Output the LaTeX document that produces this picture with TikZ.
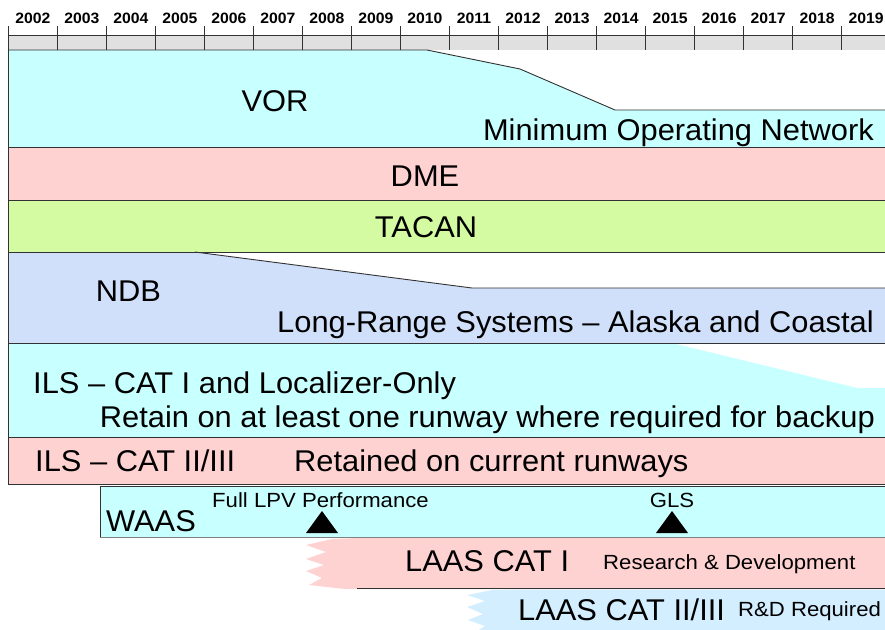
\documentclass[tikz,border=0pt]{standalone}
\usepackage{fontspec}
\setmainfont{Liberation Sans}
\usepackage{graphicx}

% band colours
\definecolor{vorcyan}{RGB}{200,255,255}
\definecolor{dmepink}{RGB}{255,210,210}
\definecolor{tacgreen}{RGB}{213,251,162}
\definecolor{ndbblue}{RGB}{208,224,250}
\definecolor{laasblue}{RGB}{210,238,255}
\definecolor{bargray}{RGB}{224,224,224}
\definecolor{edgegray}{RGB}{50,50,50}

\newcommand\bigtxt{\fontsize{30}{34}\selectfont}
\newcommand\smalltxt{\fontsize{20.5}{24}\selectfont}
\newcommand\yeartxt{\fontsize{15}{18}\selectfont\bfseries}
\newcommand\widen[1]{\scalebox{1.08}[1]{#1}}
\newcommand\wbig[1]{\scalebox{1.028}[1]{#1}}

\tikzset{
  big/.style={font=\bigtxt, inner sep=0pt},
  small/.style={font=\smalltxt, inner sep=0pt},
  yearlabel/.style={font=\yeartxt, inner sep=0pt, anchor=base},
  edge/.style={draw=edgegray, line width=0.9pt},
  softedge/.style={draw=gray, line width=0.9pt},
  marker/.style={fill=black, draw=none},
}

\begin{document}
\begin{tikzpicture}[x=1pt, y=-1pt]
\useasboundingbox (0,0) rectangle (885,629);
\clip (0,0) rectangle (885,629);

% ---- time scale ----
\fill[bargray] (8.3,35) rectangle (885,50);
\draw[edge] (8.3,35) -- (885,35);
\foreach \i in {0,...,17}
  \draw[edge] ({8.3+49.02*\i},26) -- ({8.3+49.02*\i},50);
\foreach \yr [count=\i from 0] in {2002,...,2019}
  \node[yearlabel] (y\yr) at ({8.3+49.02*\i+24.5},23.3) {\scalebox{1.05}[1]{\yr}};

% ---- band fills ----
\fill[vorcyan] (8,50) -- (427,50) -- (520,69) -- (615,110) -- (885,110) -- (885,147) -- (8,147) -- cycle;
\fill[dmepink] (8,147) rectangle (885,200);
\fill[tacgreen] (8,200) rectangle (885,252);
\fill[ndbblue] (8,252) -- (195,252) -- (472,288) -- (885,288) -- (885,343) -- (8,343) -- cycle;
\fill[vorcyan] (8,343) -- (672,343) -- (857,388) -- (885,388) -- (885,437) -- (8,437) -- cycle;
\fill[dmepink] (8,437) rectangle (885,484.5);
\fill[vorcyan] (100,486) rectangle (885,537);
% LAAS CAT I with a torn left edge
\fill[dmepink] (358,538) -- (332,539) -- (306,545) -- (326,552) -- (306,559) -- (324,565)
  -- (306,571) -- (322,578) -- (309,585) -- (345,589) -- (885,589) -- (885,538) -- cycle;
% LAAS CAT II/III with a torn left edge
\fill[laasblue] (518,589.5) -- (492,590) -- (467,595) -- (485,601) -- (467,607) -- (483,614)
  -- (468,620) -- (485,626) -- (471,635) -- (885,635) -- (885,589.5) -- cycle;

% ---- band outlines ----
\draw[edge] (8,50) -- (427,50) -- (520,69) -- (615,110) -- (885,110);
\draw[edge] (8,147) -- (885,147);
\draw[edge] (8,200) -- (885,200);
\draw[edge] (8,252) -- (885,252);
\draw[edge] (195,252) -- (472,288) -- (885,288);
\draw[edge] (8,343) -- (885,343);
\draw[edge] (8,437) -- (885,437);
\draw[edge] (8,484.5) -- (885,484.5);
\draw[edge] (8.3,26) -- (8.3,484.5);
\draw[edge] (885,486) -- (100,486) -- (100,537);
\draw[softedge] (100,537) -- (885,537);
\draw[edge] (357,588.5) -- (885,588.5);

% ---- labels ----
\node[big, anchor=base] (vor) at (275,111) {\wbig{VOR}};
\node[big, anchor=base east] (vormin) at (874,140.5) {\wbig{Minimum Operating Network}};
\node[big, anchor=base] (dme) at (425,186.5) {\wbig{DME}};
\node[big, anchor=base] (tacan) at (426,237) {\wbig{TACAN}};
\node[big, anchor=base] (ndb) at (128.5,301) {\wbig{NDB}};
\node[big, anchor=base east] (ndblr) at (874,332) {\wbig{Long-Range Systems -- Alaska and Coastal}};
\node[big, anchor=base west] (ils1) at (33,393) {\wbig{ILS -- CAT I and Localizer-Only}};
\node[big, anchor=base east] (ils1ret) at (875,427) {\wbig{Retain on at least one runway where required for backup}};
\node[big, anchor=base west] (ils2) at (35,471.5) {\wbig{ILS -- CAT II/III}};
\node[big, anchor=base west] (ils2ret) at (294,471.5) {\wbig{Retained on current runways}};
\node[big, anchor=base west] (waas) at (106,531.5) {\wbig{WAAS}};
\node[small, anchor=base west] (lpv) at (212,507.5) {\widen{Full LPV Performance}};
\node[small, anchor=base] (gls) at (672,507.5) {\widen{GLS}};
\node[big, anchor=base west] (laas1) at (405,571.5) {\wbig{LAAS CAT I}};
\node[small, anchor=base west] (laas1rd) at (603,569.5) {\widen{Research \& Development}};
\node[big, anchor=base west] (laas2) at (518,620.5) {\wbig{LAAS CAT II/III}};
\node[small, anchor=base west] (laas2rd) at (738,616) {\widen{R\&D Required}};

% ---- milestone markers ----
\fill[marker] (306,533) -- (338,533) -- (322,511) -- cycle;
\fill[marker] (656,533) -- (688,533) -- (672,511) -- cycle;
\end{tikzpicture}
\end{document}
